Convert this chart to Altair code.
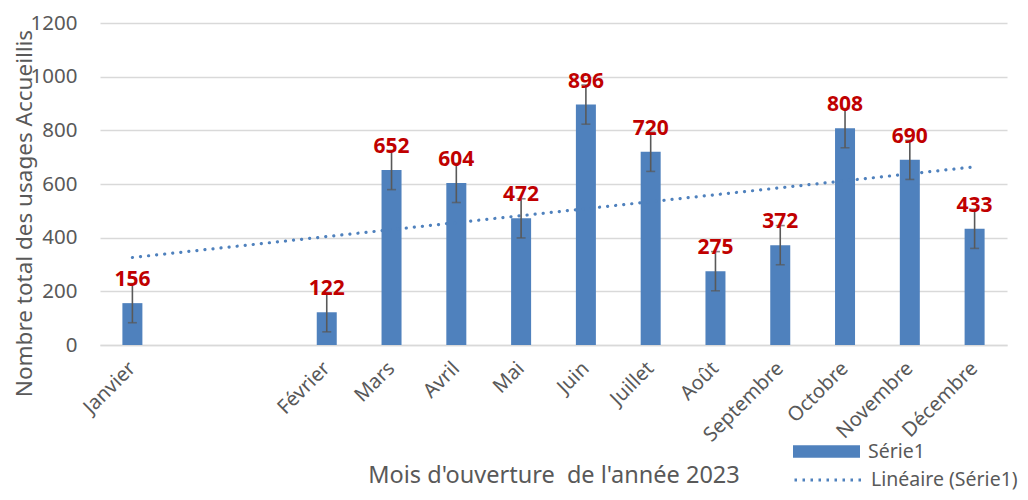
import altair as alt
import pandas as pd

categories = ["Janvier", " ", "  ", "Février", "Mars", "Avril", "Mai", "Juin",
              "Juillet", "Août", "Septembre", "Octobre", "Novembre", "Décembre"]
months = ["Janvier", "Février", "Mars", "Avril", "Mai", "Juin", "Juillet",
          "Août", "Septembre", "Octobre", "Novembre", "Décembre"]
values = [156, 122, 652, 604, 472, 896, 720, 275, 372, 808, 690, 433]
errors = [73, 73, 73, 73, 73, 73, 73, 73, 73, 73, 73, 73]
y_ticks = [0, 200, 400, 600, 800, 1000, 1200]
series_name = "Série1"
trend_name = "Linéaire (Série1)"

FONT = "Noto Sans"
GRAY = "#595959"
BLUE = "#4F81BD"

df = pd.DataFrame({
    "mois": months,
    "val": values,
    "err": errors,
    "idx": [categories.index(m) + 1 for m in months],
    "serie": [series_name] * len(months),
})
cat_df = pd.DataFrame({"idx": list(range(1, len(categories) + 1)), "mois": categories})

xscale = alt.Scale(domain=categories, paddingInner=0, paddingOuter=0)
yscale = alt.Scale(domain=[0, 1200])

x_axis = alt.Axis(
    title="Mois d'ouverture \u00a0de l'année 2023",
    labelAngle=-45, labelAlign="right", labelBaseline="middle",
    labelPadding=20, labelFontSize=20, labelColor=GRAY, labelFont=FONT,
    ticks=False, domain=True, domainColor="#D9D9D9", domainWidth=1.3,
    titleFont=FONT, titleFontSize=23.5, titleFontWeight="normal", titleColor=GRAY,
    titleY=130, titleBaseline="middle",
)
y_axis = alt.Axis(
    title="Nombre total des usages Accueillis",
    values=y_ticks, format="d", grid=True, gridColor="#D9D9D9", gridWidth=1.3,
    domain=False, ticks=False, labelPadding=23, labelFontSize=20.5,
    labelColor=GRAY, labelFont=FONT,
    titleFont=FONT, titleFontSize=22.5, titleFontWeight="normal", titleColor=GRAY,
    titleAngle=270, titleX=-76, titleY=190, titleAlign="center", titleBaseline="middle",
)

base = alt.Chart(df)

bars = base.mark_bar(size=20).encode(
    x=alt.X("mois:N", scale=xscale, sort=categories, axis=x_axis),
    y=alt.Y("val:Q", scale=yscale, axis=y_axis),
    color=alt.Color("serie:N", scale=alt.Scale(domain=[series_name], range=[BLUE]),
                    legend=alt.Legend(title=None, orient="none", legendX=693, legendY=395,
                                      symbolType="M-1,-0.19H1V0.19H-1Z", symbolSize=4489,
                                      symbolStrokeWidth=0, labelOffset=8, padding=0,
                                      labelFont=FONT, labelFontSize=19.5, labelColor=GRAY)),
)

trend = (
    base.transform_regression("idx", "val", extent=[1, len(categories)])
    .transform_lookup(lookup="idx", from_=alt.LookupData(cat_df, "idx", ["mois"]))
    .transform_calculate(lbl="'" + trend_name + "'")
    .mark_line(strokeWidth=3.2, strokeDash=[0.1, 8], strokeCap="round")
    .encode(
        x=alt.X("mois:N", scale=xscale, sort=categories),
        y=alt.Y("val:Q", scale=yscale),
        stroke=alt.Stroke("lbl:N", scale=alt.Scale(domain=[trend_name], range=[BLUE]),
                          legend=alt.Legend(title=None, orient="none", legendX=693, legendY=422,
                                            symbolType="stroke", symbolSize=4489,
                                            symbolStrokeWidth=3, symbolDash=[2.5, 5.5],
                                            labelOffset=8, padding=0,
                                            labelFont=FONT, labelFontSize=19.5, labelColor=GRAY)),
    )
)

err_base = base.transform_calculate(lo="datum.val - datum.err", hi="datum.val + datum.err")

err_rule = err_base.mark_rule(color=GRAY, strokeWidth=1.6).encode(
    x=alt.X("mois:N", scale=xscale, sort=categories),
    y=alt.Y("lo:Q", scale=yscale),
    y2="hi:Q",
)
err_lo = err_base.mark_tick(color=GRAY, size=9, thickness=1.6).encode(
    x=alt.X("mois:N", scale=xscale, sort=categories),
    y=alt.Y("lo:Q", scale=yscale),
)
err_hi = err_base.mark_tick(color=GRAY, size=9, thickness=1.6).encode(
    x=alt.X("mois:N", scale=xscale, sort=categories),
    y=alt.Y("hi:Q", scale=yscale),
)

labels = base.mark_text(font=FONT, fontSize=21, fontWeight="bold", color="#C00000",
                        baseline="alphabetic", dy=-17).encode(
    x=alt.X("mois:N", scale=xscale, sort=categories),
    y=alt.Y("val:Q", scale=yscale),
    text="val:Q",
)

chart = (
    alt.layer(bars, trend, err_rule, err_lo, err_hi, labels)
    .resolve_scale(color="independent", stroke="independent")
    .properties(
        width=907, height=322,
        autosize=alt.AutoSizeParams(type="none"),
        padding={"left": 92, "top": 15, "right": 12, "bottom": 147},
        background="white",
    )
    .configure_view(stroke=None)
)

chart.save("out.html", embed_options={"renderer": "svg", "actions": False})
